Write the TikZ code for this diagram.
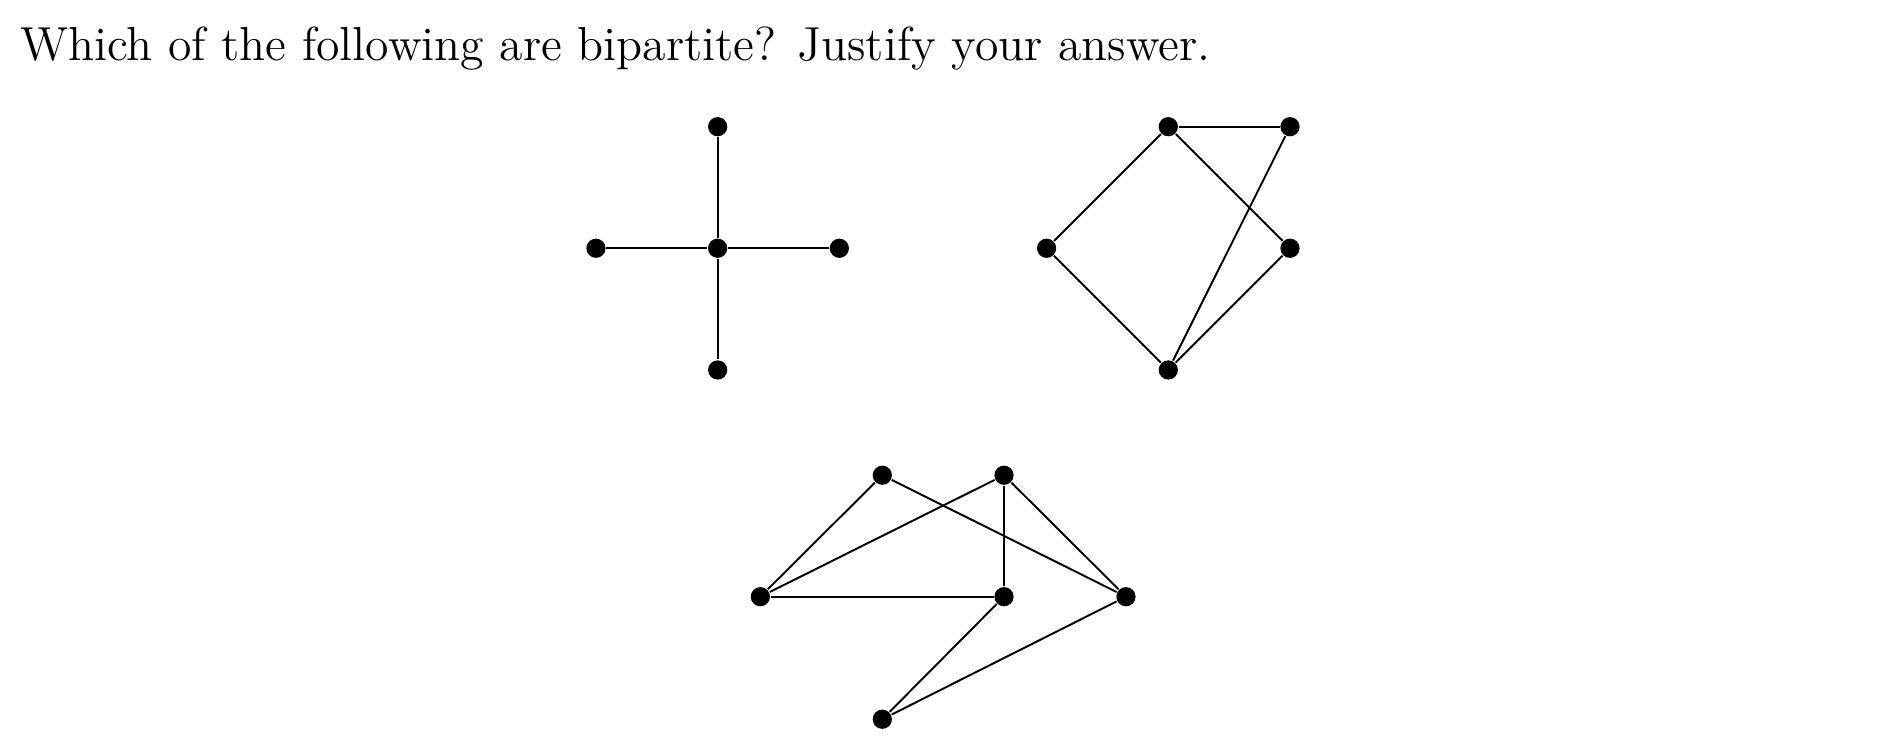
\documentclass[tikz,border=0pt]{standalone}
\usepackage{tikz}
\tikzset{
  vtx/.style={circle, fill=black, inner sep=0pt, minimum size=4.5pt},
  edge/.style={line width=0.45pt, black}
}
\begin{document}
\begin{tikzpicture}
\useasboundingbox (0,0) rectangle (15.596,-6.204);
\node[anchor=base west, inner sep=0pt, font=\fontsize{11.17}{13}\selectfont] (q) at (0.16,-0.499) {Which of the following are bipartite? Justify your answer.};
% graph 1
\node[vtx] (a0) at (5.897,-2.040) {};
\node[vtx] (a1) at (5.897,-1.041) {};
\node[vtx] (a2) at (5.897,-3.040) {};
\node[vtx] (a3) at (4.897,-2.040) {};
\node[vtx] (a4) at (6.897,-2.040) {};
\draw[edge] (a0) -- (a1);
\draw[edge] (a0) -- (a2);
\draw[edge] (a0) -- (a3);
\draw[edge] (a0) -- (a4);
% graph 2
\node[vtx] (b1) at (9.600,-1.041) {};
\node[vtx] (b2) at (10.600,-1.041) {};
\node[vtx] (b3) at (8.600,-2.040) {};
\node[vtx] (b4) at (10.600,-2.040) {};
\node[vtx] (b5) at (9.600,-3.040) {};
\draw[edge] (b1) -- (b2);
\draw[edge] (b1) -- (b3);
\draw[edge] (b1) -- (b4);
\draw[edge] (b2) -- (b5);
\draw[edge] (b3) -- (b5);
\draw[edge] (b4) -- (b5);
% graph 3
\node[vtx] (c1) at (7.250,-3.905) {};
\node[vtx] (c2) at (8.250,-3.905) {};
\node[vtx] (c3) at (6.248,-4.903) {};
\node[vtx] (c4) at (8.250,-4.903) {};
\node[vtx] (c5) at (9.252,-4.903) {};
\node[vtx] (c6) at (7.250,-5.910) {};
\draw[edge] (c1) -- (c3);
\draw[edge] (c1) -- (c5);
\draw[edge] (c2) -- (c3);
\draw[edge] (c2) -- (c4);
\draw[edge] (c2) -- (c5);
\draw[edge] (c3) -- (c4);
\draw[edge] (c4) -- (c6);
\draw[edge] (c5) -- (c6);
\end{tikzpicture}
\end{document}
